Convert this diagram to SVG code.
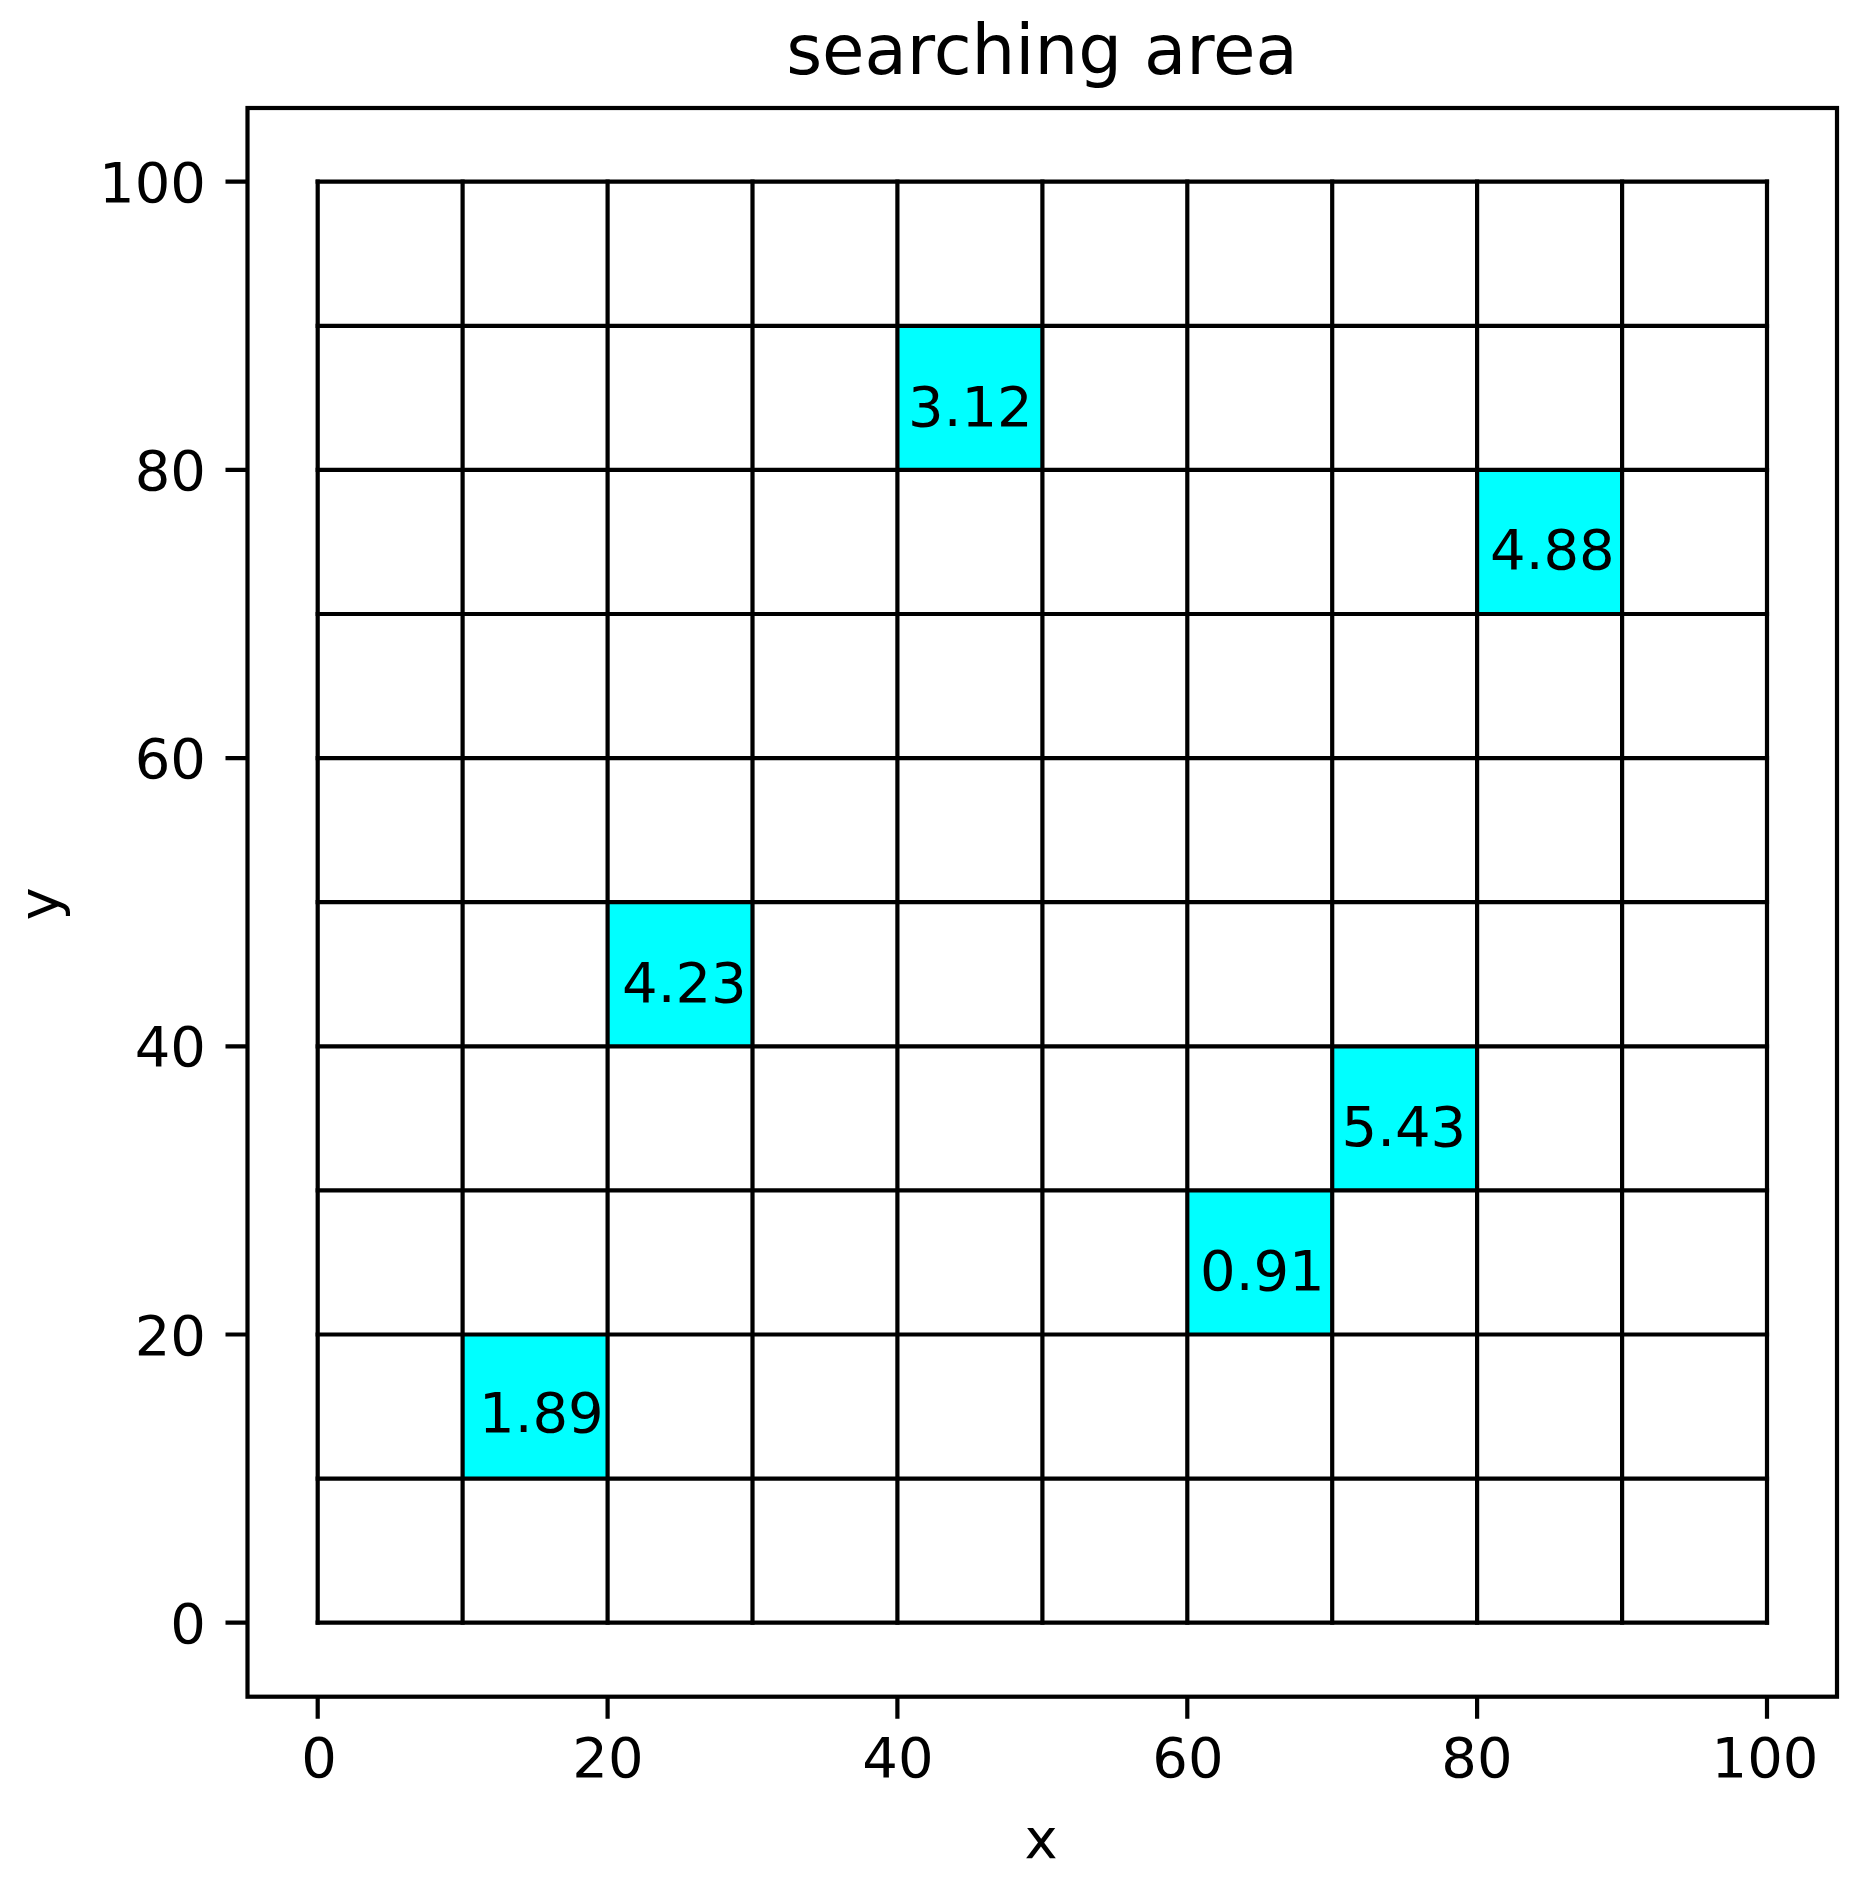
<svg xmlns="http://www.w3.org/2000/svg" width="1869" height="1885" viewBox="0 0 1869 1885">
<style>
text{font-family:"DejaVu Sans","Liberation Sans",sans-serif;fill:#000}
.tick{font-size:56px}
.cellt{font-size:56px}
.cell{fill:#00ffff;stroke:none}
.grid{stroke:#000;stroke-width:4.2;fill:none;stroke-linecap:square}
.frame{stroke:#000;stroke-width:4.2;fill:none;stroke-linejoin:miter}
.tk{stroke:#000;stroke-width:4.2;fill:none}
</style>
<rect x="0" y="0" width="1869" height="1885" fill="#fff"/>
<text x="1042" y="74" font-size="69" text-anchor="middle">searching area</text>
<g id="cells">
<g id="c-3-12"><rect class="cell" x="897.4" y="325.8" width="145" height="144.1"/><text class="cellt" x="908" y="426">3.12</text></g>
<g id="c-4-88"><rect class="cell" x="1477.1" y="469.9" width="145" height="144.1"/><text class="cellt" x="1490" y="569">4.88</text></g>
<g id="c-4-23"><rect class="cell" x="607.6" y="902.2" width="144.9" height="144.1"/><text class="cellt" x="622" y="1002">4.23</text></g>
<g id="c-5-43"><rect class="cell" x="1332.2" y="1046.3" width="144.9" height="144.1"/><text class="cellt" x="1341.5" y="1146">5.43</text></g>
<g id="c-0-91"><rect class="cell" x="1187.3" y="1190.4" width="144.9" height="144.1"/><text class="cellt" x="1200" y="1290">0.91</text></g>
<g id="c-1-89"><rect class="cell" x="462.6" y="1334.5" width="145" height="144.1"/><text class="cellt" x="479" y="1432">1.89</text></g>
</g>
<g id="connectors">
<path class="grid" d="M317.7 181.7V1622.7M462.6 181.7V1622.7M607.6 181.7V1622.7M752.5 181.7V1622.7M897.4 181.7V1622.7M1042.4 181.7V1622.7M1187.3 181.7V1622.7M1332.2 181.7V1622.7M1477.1 181.7V1622.7M1622.1 181.7V1622.7M1767 181.7V1622.7"/>
<path class="grid" d="M317.7 181.7H1767M317.7 325.8H1767M317.7 469.9H1767M317.7 614H1767M317.7 758.1H1767M317.7 902.2H1767M317.7 1046.3H1767M317.7 1190.4H1767M317.7 1334.5H1767M317.7 1478.6H1767M317.7 1622.7H1767"/>
</g>
<g id="axes">
<rect class="frame" x="247.5" y="108" width="1589.5" height="1588.7"/>
<path class="tk" d="M225.5 181.7H247.5M225.5 469.9H247.5M225.5 758.1H247.5M225.5 1046.3H247.5M225.5 1334.5H247.5M225.5 1622.7H247.5"/>
<path class="tk" d="M317.7 1696.7V1718.7M607.6 1696.7V1718.7M897.4 1696.7V1718.7M1187.3 1696.7V1718.7M1477.1 1696.7V1718.7M1767 1696.7V1718.7"/>
<g class="tick" text-anchor="end">
<text x="206" y="201.7">100</text>
<text x="206" y="489.9">80</text>
<text x="206" y="778.1">60</text>
<text x="206" y="1066.3">40</text>
<text x="206" y="1354.5">20</text>
<text x="206" y="1642.7">0</text>
</g>
<g class="tick" text-anchor="middle">
<text x="319" y="1777">0</text>
<text x="608" y="1777">20</text>
<text x="898" y="1777">40</text>
<text x="1188" y="1777">60</text>
<text x="1477" y="1777">80</text>
<text x="1765" y="1777">100</text>
</g>
<text x="1041" y="1858" font-size="56" text-anchor="middle">x</text>
<text x="58" y="904" font-size="56" text-anchor="middle" transform="rotate(-90 58 904)">y</text>
</g>
</svg>
